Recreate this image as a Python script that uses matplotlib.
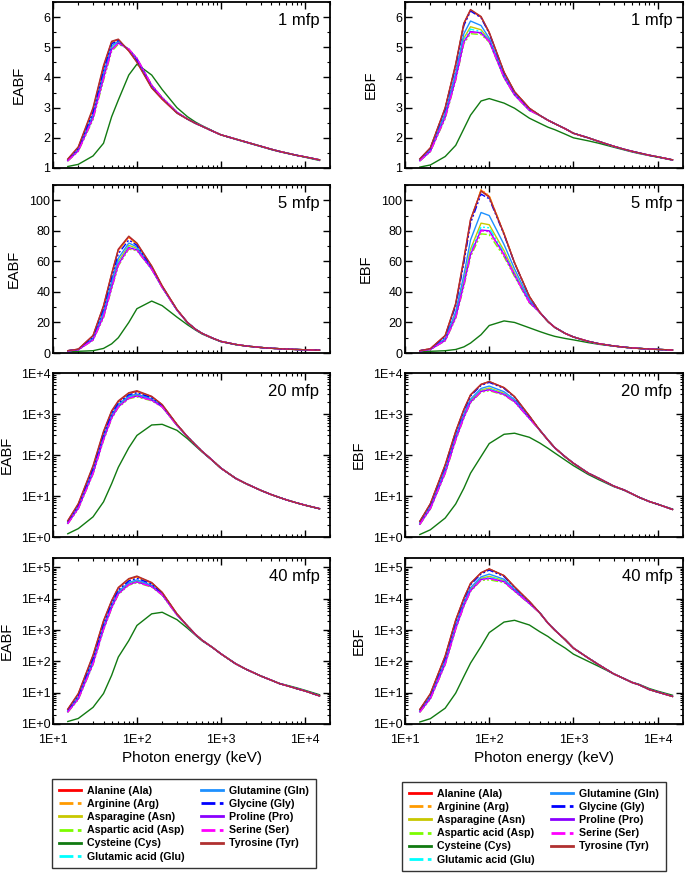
import numpy as np
import matplotlib
matplotlib.use('Agg')
import matplotlib.pyplot as plt
from matplotlib.lines import Line2D
from matplotlib.ticker import FixedLocator, FuncFormatter, MultipleLocator, NullFormatter
from matplotlib.font_manager import FontProperties

plt.rcParams['font.family'] = ['Liberation Sans', 'DejaVu Sans']

# ---------------- data ----------------
ENERGY_LOW = [15, 20, 30, 40, 50, 60, 80, 100, 150, 200, 300]
ENERGY_HIGH = [400, 500, 600, 800, 1000, 1500, 2000, 3000, 4000, 5000, 6000, 8000, 10000, 15000]

NAMES = ['Alanine (Ala)', 'Arginine (Arg)', 'Asparagine (Asn)', 'Aspartic acid (Asp)',
         'Cysteine (Cys)', 'Glutamic acid (Glu)', 'Glutamine (Gln)', 'Glycine (Gly)',
         'Proline (Pro)', 'Serine (Ser)', 'Tyrosine (Tyr)']
CODES = ['Ala', 'Arg', 'Asn', 'Asp', 'Cys', 'Glu', 'Gln', 'Gly', 'Pro', 'Ser', 'Tyr']

# EABF, 1 mfp (low-energy part 15-300 keV per amino acid, common tail 400 keV-15 MeV)
EABF1_ALA = [1.28, 1.68, 2.95, 4.35, 5.18, 5.25, 4.88, 4.52, 3.66, 3.28, 2.82]
EABF1_ARG = [1.28, 1.66, 2.90, 4.30, 5.15, 5.24, 4.90, 4.55, 3.68, 3.30, 2.83]
EABF1_ASN = [1.25, 1.60, 2.72, 4.05, 4.98, 5.17, 4.93, 4.60, 3.72, 3.32, 2.84]
EABF1_ASP = [1.23, 1.55, 2.60, 3.90, 4.86, 5.10, 4.94, 4.64, 3.75, 3.34, 2.85]
EABF1_GLU = [1.25, 1.59, 2.70, 4.02, 4.96, 5.16, 4.93, 4.61, 3.72, 3.32, 2.84]
EABF1_GLN = [1.26, 1.62, 2.78, 4.15, 5.05, 5.20, 4.92, 4.58, 3.70, 3.31, 2.83]
EABF1_GLY = [1.27, 1.65, 2.85, 4.25, 5.12, 5.22, 4.90, 4.56, 3.69, 3.30, 2.83]
EABF1_PRO = [1.24, 1.57, 2.66, 3.98, 4.93, 5.14, 4.94, 4.63, 3.74, 3.33, 2.85]
EABF1_SER = [1.24, 1.56, 2.64, 3.95, 4.90, 5.13, 4.94, 4.64, 3.75, 3.33, 2.85]
EABF1_TYR = [1.30, 1.70, 3.00, 4.40, 5.20, 5.27, 4.88, 4.50, 3.65, 3.28, 2.82]
EABF1_TAIL = [2.62, 2.48, 2.38, 2.22, 2.10, 1.96, 1.86, 1.72, 1.62, 1.55, 1.50, 1.42, 1.37, 1.27]
EABF1_CYS = [1.05, 1.12, 1.40, 1.82, 2.70, 3.25, 4.08, 4.44, 4.08, 3.60, 3.00, 2.70, 2.52, 2.40,
             2.23, 2.10, 1.95, 1.85, 1.71, 1.61, 1.54, 1.49, 1.42, 1.36, 1.25]

# EBF, 1 mfp
EBF1_ALA = [1.30, 1.66, 2.98, 4.42, 5.78, 6.23, 6.00, 5.48, 4.17, 3.52, 2.98]
EBF1_ARG = [1.29, 1.66, 2.97, 4.40, 5.76, 6.22, 6.00, 5.47, 4.16, 3.52, 2.97]
EBF1_ASN = [1.26, 1.58, 2.75, 4.05, 5.30, 5.68, 5.58, 5.24, 4.04, 3.44, 2.93]
EBF1_ASP = [1.23, 1.54, 2.63, 3.90, 5.12, 5.45, 5.42, 5.17, 3.98, 3.41, 2.90]
EBF1_GLU = [1.25, 1.57, 2.72, 4.00, 5.25, 5.60, 5.52, 5.22, 4.02, 3.43, 2.92]
EBF1_GLN = [1.27, 1.60, 2.82, 4.15, 5.45, 5.87, 5.72, 5.30, 4.08, 3.46, 2.94]
EBF1_GLY = [1.29, 1.65, 2.95, 4.38, 5.72, 6.20, 5.98, 5.46, 4.15, 3.51, 2.97]
EBF1_PRO = [1.24, 1.55, 2.68, 3.95, 5.18, 5.52, 5.48, 5.20, 4.00, 3.42, 2.91]
EBF1_SER = [1.24, 1.55, 2.66, 3.93, 5.16, 5.50, 5.46, 5.19, 4.00, 3.42, 2.91]
EBF1_TYR = [1.30, 1.67, 3.00, 4.45, 5.80, 6.25, 6.02, 5.50, 4.18, 3.53, 2.98]
EBF1_TAIL = [2.74, 2.58, 2.47, 2.30, 2.15, 2.00, 1.88, 1.72, 1.62, 1.55, 1.50, 1.42, 1.37, 1.27]
EBF1_CYS = [1.03, 1.10, 1.38, 1.75, 2.30, 2.75, 3.22, 3.30, 3.15, 2.98, 2.65, 2.48, 2.35, 2.27,
            2.12, 2.00, 1.90, 1.82, 1.69, 1.60, 1.53, 1.48, 1.41, 1.36, 1.26]

# EABF, 5 mfp
EABF5_ALA = [1.5, 2.5, 11.3, 30.5, 51.5, 67.5, 76.0, 71.5, 56.8, 43.8, 28.4]
EABF5_ARG = [1.5, 2.4, 11.0, 30.0, 51.0, 67.0, 75.5, 71.2, 56.6, 43.7, 28.4]
EABF5_ASN = [1.4, 2.2, 9.2, 25.5, 45.0, 60.0, 70.5, 68.5, 55.2, 43.1, 28.2]
EABF5_ASP = [1.4, 2.1, 8.3, 23.0, 42.0, 57.0, 68.0, 67.0, 54.7, 42.8, 28.0]
EABF5_GLU = [1.4, 2.2, 9.0, 25.0, 44.0, 59.0, 69.5, 68.0, 55.0, 43.0, 28.1]
EABF5_GLN = [1.45, 2.3, 9.8, 27.0, 47.0, 62.0, 72.0, 69.5, 55.6, 43.3, 28.2]
EABF5_GLY = [1.5, 2.4, 10.5, 29.0, 49.5, 65.0, 74.0, 70.5, 56.0, 43.5, 28.3]
EABF5_PRO = [1.4, 2.1, 8.6, 24.0, 43.0, 58.0, 69.0, 67.5, 55.0, 43.0, 28.1]
EABF5_SER = [1.4, 2.1, 8.5, 23.5, 42.5, 57.5, 68.5, 67.3, 54.8, 42.9, 28.1]
EABF5_TYR = [1.5, 2.5, 11.5, 31.0, 52.0, 68.0, 76.5, 72.0, 57.0, 44.0, 28.5]
EABF5_TAIL = [20.0, 15.5, 12.8, 9.7, 7.6, 5.6, 4.6, 3.6, 3.1, 2.8, 2.6, 2.3, 2.1, 1.85]
EABF5_CYS = [1.0, 1.1, 1.5, 3.0, 6.0, 10.0, 20.0, 29.0, 34.0, 31.0, 23.5, 18.5, 15.0, 12.4,
             9.5, 7.4, 5.5, 4.5, 3.6, 3.1, 2.8, 2.6, 2.3, 2.1, 1.85]

# EBF, 5 mfp
EBF5_ALA = [1.5, 2.8, 11.3, 32.0, 61.0, 87.0, 106.5, 102.5, 78.0, 59.0, 37.0]
EBF5_ARG = [1.5, 2.7, 11.0, 31.5, 60.0, 86.0, 107.0, 103.0, 78.3, 59.2, 37.0]
EBF5_ASN = [1.4, 2.4, 8.8, 25.0, 47.5, 68.0, 85.0, 84.0, 67.0, 52.5, 34.0]
EBF5_ASP = [1.4, 2.3, 7.9, 22.5, 43.5, 63.0, 78.0, 77.5, 63.0, 50.0, 32.7]
EBF5_GLU = [1.4, 2.4, 8.5, 24.0, 46.0, 66.0, 82.5, 82.0, 65.5, 51.5, 33.5]
EBF5_GLN = [1.45, 2.5, 9.5, 27.0, 51.0, 74.0, 92.0, 90.0, 71.0, 55.0, 35.0]
EBF5_GLY = [1.5, 2.7, 10.8, 31.0, 59.0, 85.0, 104.0, 101.0, 77.5, 58.8, 36.8]
EBF5_PRO = [1.4, 2.3, 8.2, 23.5, 45.0, 64.5, 80.5, 80.0, 64.5, 51.0, 33.2]
EBF5_SER = [1.4, 2.3, 8.1, 23.0, 44.5, 64.0, 80.0, 79.5, 64.0, 50.8, 33.0]
EBF5_TYR = [1.5, 2.8, 11.5, 32.5, 62.0, 87.5, 106.0, 102.0, 78.0, 59.0, 37.0]
EBF5_TAIL = [26.5, 20.5, 16.8, 12.8, 10.5, 7.6, 6.1, 4.6, 3.8, 3.3, 3.0, 2.6, 2.35, 1.95]
EBF5_CYS = [1.0, 1.1, 1.5, 2.3, 4.0, 6.5, 12.0, 18.0, 21.0, 20.0, 16.5, 14.0, 12.2, 10.9,
            9.5, 8.6, 6.8, 5.7, 4.5, 3.75, 3.3, 3.0, 2.6, 2.35, 1.95]

# EABF, 20 mfp
EABF20_ALA = [2.45, 6.3, 52, 360, 1150, 2000, 3200, 3550, 2650, 1680, 555]
EABF20_ARG = [2.4, 6.1, 50, 345, 1100, 1950, 3100, 3450, 2600, 1660, 552]
EABF20_ASN = [2.2, 5.3, 39, 265, 880, 1600, 2600, 2900, 2250, 1530, 536]
EABF20_ASP = [2.1, 4.8, 34, 225, 770, 1430, 2350, 2600, 2100, 1470, 525]
EABF20_GLU = [2.2, 5.2, 38, 255, 850, 1550, 2550, 2850, 2220, 1520, 534]
EABF20_GLN = [2.3, 5.6, 43, 290, 950, 1720, 2750, 3050, 2350, 1570, 542]
EABF20_GLY = [2.35, 5.9, 47, 320, 1030, 1850, 2950, 3300, 2500, 1620, 548]
EABF20_PRO = [2.15, 5.0, 36, 240, 810, 1500, 2450, 2750, 2180, 1500, 530]
EABF20_SER = [2.1, 4.9, 35, 235, 790, 1470, 2420, 2700, 2150, 1490, 528]
EABF20_TYR = [2.5, 6.5, 55, 380, 1200, 2100, 3300, 3700, 2700, 1700, 560]
EABF20_TAIL = [280, 175, 122, 73, 48, 27, 20, 13.7, 10.8, 9.2, 8.1, 6.8, 6.0, 4.9]
EABF20_CYS = [1.2, 1.6, 3.1, 7.2, 20, 50, 150, 300, 540, 560, 400, 250, 165, 118,
              72, 48, 27, 20, 13.7, 10.8, 9.2, 8.1, 6.8, 6.0, 4.9]

# EBF, 20 mfp
EBF20_ALA = [2.4, 6.4, 56, 370, 1270, 2900, 5250, 6150, 4380, 2640, 890]
EBF20_ARG = [2.4, 6.3, 55, 365, 1250, 2850, 5200, 6100, 4350, 2620, 885]
EBF20_ASN = [2.15, 5.2, 41, 260, 900, 2100, 3850, 4300, 3200, 2100, 800]
EBF20_ASP = [2.0, 4.8, 35, 225, 790, 1850, 3400, 3700, 2880, 1950, 770]
EBF20_GLU = [2.1, 5.1, 39, 250, 870, 2020, 3700, 4100, 3100, 2050, 790]
EBF20_GLN = [2.25, 5.6, 45, 290, 1000, 2300, 4200, 4800, 3500, 2250, 820]
EBF20_GLY = [2.35, 6.2, 53, 350, 1200, 2750, 5000, 5900, 4200, 2560, 875]
EBF20_PRO = [2.05, 4.9, 37, 240, 830, 1950, 3550, 3900, 3000, 2000, 780]
EBF20_SER = [2.05, 4.9, 36.5, 235, 820, 1920, 3500, 3850, 2950, 1980, 775]
EBF20_TYR = [2.4, 6.5, 58, 380, 1300, 2950, 5300, 6200, 4400, 2650, 900]
EBF20_TAIL = [400, 230, 150, 90, 63, 36, 27, 17.5, 14, 11.2, 9.3, 7.3, 6.3, 4.7]
EBF20_CYS = [1.15, 1.5, 2.9, 6.4, 15.5, 36, 92, 190, 320, 340, 270, 195, 145, 112,
             75, 55, 33.5, 25, 17, 13.8, 11.1, 9.3, 7.3, 6.3, 4.8]

# EABF, 40 mfp
EABF40_ALA = [2.9, 9.0, 150, 1900, 8400, 22000, 42000, 51000, 32000, 15800, 3280]
EABF40_ARG = [2.85, 8.6, 140, 1800, 8000, 21000, 40000, 48000, 31000, 15500, 3250]
EABF40_ASN = [2.55, 6.8, 95, 1200, 5700, 15500, 30500, 37000, 25500, 13800, 3100]
EABF40_ASP = [2.35, 6.0, 78, 1000, 4900, 13500, 27000, 32500, 23500, 13000, 3000]
EABF40_GLU = [2.5, 6.6, 90, 1150, 5500, 15000, 29500, 36000, 25000, 13600, 3080]
EABF40_GLN = [2.65, 7.4, 108, 1350, 6300, 17000, 33000, 40000, 27000, 14300, 3150]
EABF40_GLY = [2.8, 8.2, 125, 1600, 7300, 19000, 37000, 45000, 29500, 15000, 3200]
EABF40_PRO = [2.45, 6.3, 85, 1080, 5200, 14300, 28500, 34500, 24500, 13400, 3060]
EABF40_SER = [2.4, 6.2, 82, 1050, 5100, 14000, 28000, 34000, 24200, 13300, 3050]
EABF40_TYR = [3.0, 9.4, 160, 2000, 8800, 23000, 44000, 53000, 33000, 16000, 3300]
EABF40_TAIL = [1350, 720, 470, 275, 175, 84, 56, 34, 25, 19.5, 17, 13.5, 11.4, 7.9]
EABF40_CYS = [1.2, 1.5, 3.4, 9.4, 36, 137, 460, 1400, 3300, 3700, 2150, 1150, 680, 450,
              275, 175, 84, 56, 34, 25, 19.8, 17.5, 14.3, 12, 8.6]

# EBF, 40 mfp
EBF40_ALA = [2.9, 9.1, 145, 2050, 10200, 30500, 67000, 89000, 54500, 23800, 8150]
EBF40_ARG = [2.85, 9.0, 140, 2000, 10000, 30000, 66000, 88000, 54000, 23600, 8100]
EBF40_ASN = [2.55, 7.0, 92, 1250, 6600, 20000, 45000, 52000, 38000, 18800, 7250]
EBF40_ASP = [2.35, 6.2, 78, 1050, 5700, 17000, 38500, 40000, 33000, 17200, 6900]
EBF40_GLU = [2.5, 6.8, 88, 1200, 6300, 19000, 43000, 49000, 36500, 18300, 7150]
EBF40_GLN = [2.65, 7.6, 105, 1450, 7500, 22500, 50000, 61000, 42000, 20000, 7500]
EBF40_GLY = [2.8, 8.6, 130, 1850, 9300, 28000, 62000, 82000, 51000, 22800, 8000]
EBF40_PRO = [2.45, 6.5, 83, 1120, 6000, 18000, 41000, 45000, 35000, 17800, 7050]
EBF40_SER = [2.4, 6.4, 81, 1100, 5900, 17700, 40000, 44000, 34500, 17600, 7000]
EBF40_TYR = [2.9, 9.3, 150, 2100, 10500, 31000, 68000, 90000, 55000, 24000, 8200]
EBF40_TAIL = [3500, 1650, 1000, 490, 265, 128, 78, 40, 28, 21, 18, 12.5, 10.5, 7.6]
EBF40_CYS = [1.16, 1.48, 3.2, 9.7, 33, 88, 300, 830, 1800, 2050, 1450, 880, 620, 430,
             265, 170, 100, 69, 40, 28, 21.5, 18.5, 13.5, 11.2, 8.3]

MFP_LABELS = ['1 mfp', '5 mfp', '20 mfp', '40 mfp']

# ---------------- assemble ----------------
ENERGY_ALL = ENERGY_LOW + ENERGY_HIGH


def build(low, tail, cys):
    out = {}
    for code in CODES:
        if code == 'Cys':
            out[code] = cys
        else:
            out[code] = low[code] + tail
    return out


PANELS_EABF = [
    build(dict(Ala=EABF1_ALA, Arg=EABF1_ARG, Asn=EABF1_ASN, Asp=EABF1_ASP, Glu=EABF1_GLU,
               Gln=EABF1_GLN, Gly=EABF1_GLY, Pro=EABF1_PRO, Ser=EABF1_SER, Tyr=EABF1_TYR),
          EABF1_TAIL, EABF1_CYS),
    build(dict(Ala=EABF5_ALA, Arg=EABF5_ARG, Asn=EABF5_ASN, Asp=EABF5_ASP, Glu=EABF5_GLU,
               Gln=EABF5_GLN, Gly=EABF5_GLY, Pro=EABF5_PRO, Ser=EABF5_SER, Tyr=EABF5_TYR),
          EABF5_TAIL, EABF5_CYS),
    build(dict(Ala=EABF20_ALA, Arg=EABF20_ARG, Asn=EABF20_ASN, Asp=EABF20_ASP, Glu=EABF20_GLU,
               Gln=EABF20_GLN, Gly=EABF20_GLY, Pro=EABF20_PRO, Ser=EABF20_SER, Tyr=EABF20_TYR),
          EABF20_TAIL, EABF20_CYS),
    build(dict(Ala=EABF40_ALA, Arg=EABF40_ARG, Asn=EABF40_ASN, Asp=EABF40_ASP, Glu=EABF40_GLU,
               Gln=EABF40_GLN, Gly=EABF40_GLY, Pro=EABF40_PRO, Ser=EABF40_SER, Tyr=EABF40_TYR),
          EABF40_TAIL, EABF40_CYS),
]
PANELS_EBF = [
    build(dict(Ala=EBF1_ALA, Arg=EBF1_ARG, Asn=EBF1_ASN, Asp=EBF1_ASP, Glu=EBF1_GLU,
               Gln=EBF1_GLN, Gly=EBF1_GLY, Pro=EBF1_PRO, Ser=EBF1_SER, Tyr=EBF1_TYR),
          EBF1_TAIL, EBF1_CYS),
    build(dict(Ala=EBF5_ALA, Arg=EBF5_ARG, Asn=EBF5_ASN, Asp=EBF5_ASP, Glu=EBF5_GLU,
               Gln=EBF5_GLN, Gly=EBF5_GLY, Pro=EBF5_PRO, Ser=EBF5_SER, Tyr=EBF5_TYR),
          EBF5_TAIL, EBF5_CYS),
    build(dict(Ala=EBF20_ALA, Arg=EBF20_ARG, Asn=EBF20_ASN, Asp=EBF20_ASP, Glu=EBF20_GLU,
               Gln=EBF20_GLN, Gly=EBF20_GLY, Pro=EBF20_PRO, Ser=EBF20_SER, Tyr=EBF20_TYR),
          EBF20_TAIL, EBF20_CYS),
    build(dict(Ala=EBF40_ALA, Arg=EBF40_ARG, Asn=EBF40_ASN, Asp=EBF40_ASP, Glu=EBF40_GLU,
               Gln=EBF40_GLN, Gly=EBF40_GLY, Pro=EBF40_PRO, Ser=EBF40_SER, Tyr=EBF40_TYR),
          EBF40_TAIL, EBF40_CYS),
]

# ---------------- styles ----------------
DDOT = (0, (5, 1.6, 1.4, 1.6, 1.4, 1.6))
STYLE = {
    'Ala': ('#ff0000', '-'),
    'Arg': ('#ff9a00', DDOT),
    'Asn': ('#c8c800', '-'),
    'Asp': ('#7cfc00', DDOT),
    'Cys': ('#117a11', '-'),
    'Glu': ('#00ffff', DDOT),
    'Gln': ('#1e90ff', '-'),
    'Gly': ('#0000ff', DDOT),
    'Pro': ('#8a00ff', '-'),
    'Ser': ('#ff00ff', DDOT),
    'Tyr': ('#b03030', '-'),
}

W, H = 685, 875
fig = plt.figure(figsize=(W / 100, H / 100), dpi=100)

COL_X = [(53, 330), (405, 683)]
ROW_Y = [(2, 168), (185, 353), (373, 537), (558, 724)]
YLAB_X = [-0.097, -0.117, -0.142, -0.142]

XMAJ = [10, 100, 1000, 10000]
XMIN = [m * 10 ** k for k in range(1, 5) for m in range(2, 10) if m * 10 ** k <= 20000]


def log_fmt(v, pos):
    return '1E+%d' % int(round(np.log10(v)))


for c, (panels, ylab) in enumerate([(PANELS_EABF, 'EABF'), (PANELS_EBF, 'EBF')]):
    x0, x1 = COL_X[c]
    for r in range(4):
        y0, y1 = ROW_Y[r]
        ax = fig.add_axes([x0 / W, 1 - y1 / H, (x1 - x0) / W, (y1 - y0) / H])
        data = panels[r]
        for code in CODES:
            col, ls = STYLE[code]
            ax.plot(ENERGY_ALL, data[code], color=col, ls=ls, lw=1.0)
        ax.set_xscale('log')
        ax.set_xlim(10, 20000)
        ax.xaxis.set_major_locator(FixedLocator(XMAJ))
        ax.xaxis.set_minor_locator(FixedLocator(XMIN))
        ax.xaxis.set_minor_formatter(NullFormatter())
        if r == 3:
            ax.xaxis.set_major_formatter(FuncFormatter(log_fmt))
            ax.set_xlabel('Photon energy (keV)', fontsize=11, labelpad=4)
        else:
            ax.xaxis.set_major_formatter(NullFormatter())
        if r == 0:
            ax.set_ylim(1, 6.5)
            ax.yaxis.set_major_locator(MultipleLocator(1))
            ax.yaxis.set_minor_locator(MultipleLocator(0.5))
        elif r == 1:
            ax.set_ylim(0, 110)
            ax.yaxis.set_major_locator(MultipleLocator(20))
            ax.yaxis.set_minor_locator(MultipleLocator(10))
        else:
            top = 1e4 if r == 2 else 2e5
            ax.set_yscale('log')
            ax.set_ylim(1, top)
            nd = 5 if r == 2 else 6
            ax.yaxis.set_major_locator(FixedLocator([10 ** k for k in range(nd)]))
            ax.yaxis.set_minor_locator(FixedLocator([m * 10 ** k for k in range(nd) for m in range(2, 10)]))
            ax.yaxis.set_major_formatter(FuncFormatter(log_fmt))
            ax.yaxis.set_minor_formatter(NullFormatter())
        ax.tick_params(which='both', direction='in', top=True, right=True, labelsize=9)
        ax.tick_params(axis='y', which='both', pad=2)
        ax.tick_params(axis='x', which='both', pad=7)
        ax.tick_params(which='major', length=5, width=1.0)
        ax.tick_params(which='minor', length=2.5, width=0.8)
        for sp in ax.spines.values():
            sp.set_linewidth(1.3)
        ax.set_ylabel(ylab, fontsize=10.5)
        ax.yaxis.set_label_coords(YLAB_X[r], 0.5)
        ax.text(0.962, 1 - 18 / (y1 - y0), MFP_LABELS[r], transform=ax.transAxes,
                ha='right', va='center', fontsize=12)

# ---------------- legends ----------------
handles = [Line2D([0], [0], color=STYLE[c][0], ls=STYLE[c][1], lw=2.0) for c in CODES]
prop = FontProperties(family='Liberation Sans', weight='bold', size=7.7)
for lx, ly in [(52, 779), (402, 782)]:
    fig.legend(handles, NAMES, loc='upper left', bbox_to_anchor=(lx / W, 1 - ly / H),
               bbox_transform=fig.transFigure, ncol=2, prop=prop, frameon=True,
               fancybox=False, edgecolor='#333333', framealpha=1,
               handlelength=2.05, handletextpad=0.56, columnspacing=1.6,
               labelspacing=0.3, borderpad=0.62, borderaxespad=0)

fig.savefig('out.png', dpi=100)
